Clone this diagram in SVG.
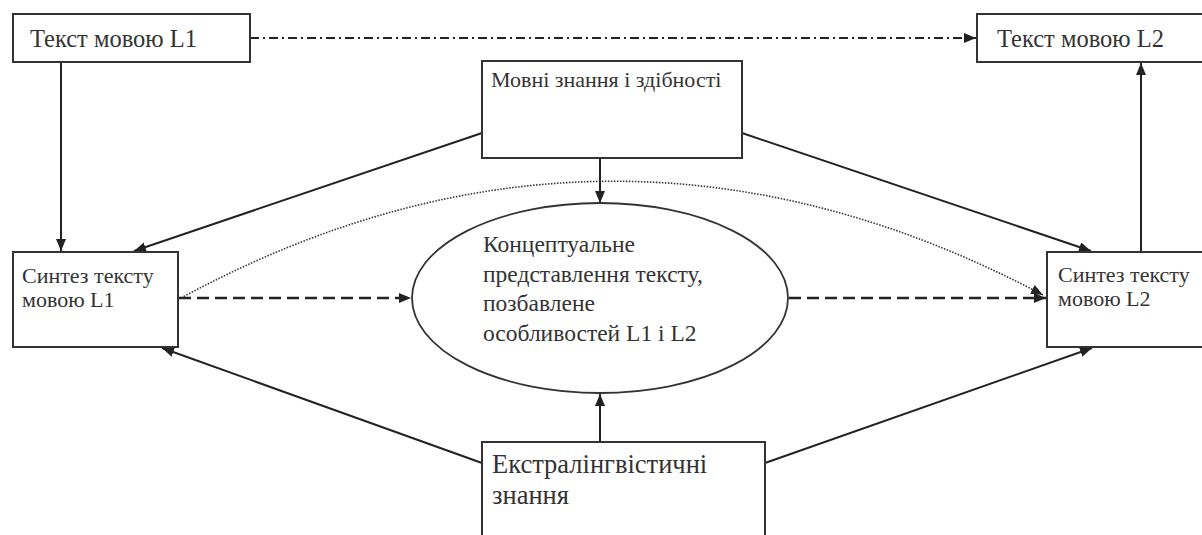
<svg xmlns="http://www.w3.org/2000/svg" width="1202" height="535" viewBox="0 0 1202 535">
<style>
.box{fill:#fff;stroke:#333;stroke-width:2}
.t{font-family:"Liberation Serif","Times New Roman",serif;fill:#333}
.ln{stroke:#222;stroke-width:2;fill:none}
.dash{stroke:#222;stroke-width:2.5;fill:none;stroke-dasharray:12 6}
.dd{stroke:#222;stroke-width:2;fill:none;stroke-dasharray:9 4 2 4}
.dot{stroke:#333;stroke-width:1.6;fill:none;stroke-dasharray:1.5 1.5}
</style>
<defs>
<marker id="ah" viewBox="0 0 12 10" refX="12" refY="5" markerWidth="12" markerHeight="10" markerUnits="userSpaceOnUse" orient="auto">
<path d="M0,0 L12,5 L0,10 z" fill="#222"/>
</marker>
</defs>
<rect width="1202" height="535" fill="#fff"/>
<g id="connectors">
<line class="dd" x1="250" y1="38" x2="976" y2="38" marker-end="url(#ah)"/>
<line class="ln" x1="61" y1="62" x2="61" y2="251" marker-end="url(#ah)"/>
<line class="ln" x1="1141" y1="252" x2="1141" y2="63" marker-end="url(#ah)"/>
<line class="ln" x1="600" y1="158" x2="600" y2="203" marker-end="url(#ah)"/>
<line class="ln" x1="600" y1="442" x2="600" y2="394" marker-end="url(#ah)"/>
<line class="ln" x1="482" y1="133" x2="134" y2="251" marker-end="url(#ah)"/>
<line class="ln" x1="742" y1="133" x2="1091" y2="251" marker-end="url(#ah)"/>
<line class="ln" x1="482" y1="463" x2="162" y2="348" marker-end="url(#ah)"/>
<line class="ln" x1="765" y1="463" x2="1092" y2="348" marker-end="url(#ah)"/>
<line class="dash" x1="179" y1="298" x2="411" y2="298" marker-end="url(#ah)"/>
<line class="dash" x1="789" y1="298" x2="1046" y2="298" marker-end="url(#ah)"/>
<path class="dot" d="M181,298 Q610,66 1043,295" marker-end="url(#ah)"/>
</g>
<g id="n1">
<rect class="box" x="13" y="14" width="237" height="48"/>
<text class="t" x="30" y="47" font-size="24.5">Текст мовою L1</text>
</g>
<g id="n2">
<rect class="box" x="977" y="14" width="240" height="48"/>
<text class="t" x="997" y="47" font-size="24.5">Текст мовою L2</text>
</g>
<g id="n3">
<rect class="box" x="482" y="61" width="260" height="97"/>
<text class="t" x="491" y="87" font-size="22">Мовні знання і здібності</text>
</g>
<g id="n4">
<rect class="box" x="13" y="252" width="165" height="95"/>
<text class="t" x="22" y="283" font-size="22">Синтез тексту</text>
<text class="t" x="22" y="307" font-size="22">мовою L1</text>
</g>
<g id="n5">
<rect class="box" x="1047" y="252" width="170" height="95"/>
<text class="t" x="1058" y="282" font-size="22">Синтез тексту</text>
<text class="t" x="1058" y="306" font-size="22">мовою L2</text>
</g>
<g id="n6">
<ellipse class="box" cx="600" cy="298" rx="188" ry="95" style="stroke-width:1.8"/>
<text class="t" x="483" y="252" font-size="23.5">Концептуальне</text>
<text class="t" x="483" y="282" font-size="23.5">представлення тексту,</text>
<text class="t" x="483" y="311" font-size="23.5">позбавлене</text>
<text class="t" x="483" y="341" font-size="23.5">особливостей L1 і L2</text>
</g>
<g id="n7">
<rect class="box" x="482" y="442" width="283" height="100"/>
<text class="t" x="492" y="473" font-size="26.5">Екстралінгвістичні</text>
<text class="t" x="492" y="504" font-size="26.5">знання</text>
</g>
</svg>
